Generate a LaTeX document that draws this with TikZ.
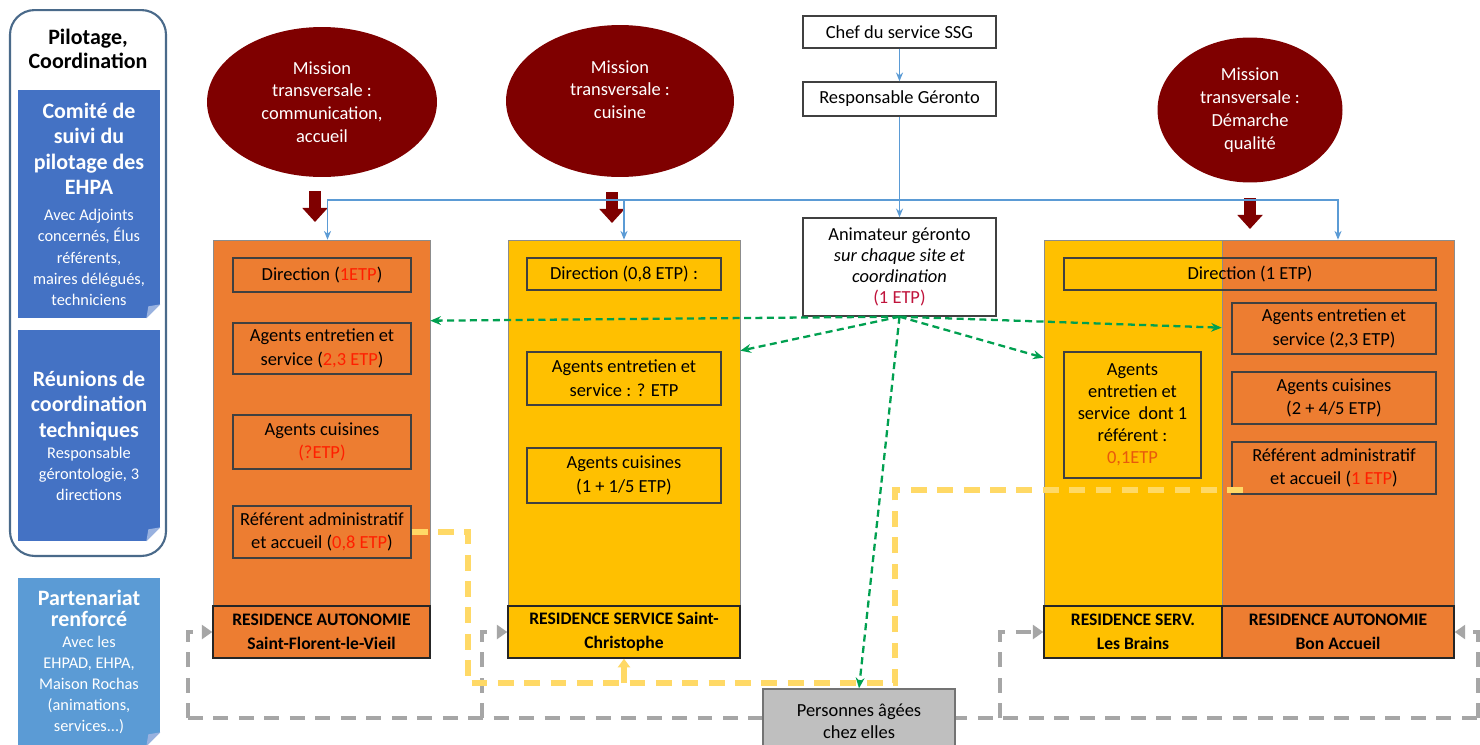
\documentclass[tikz,border=0pt]{standalone}
\usepackage{fontspec}
\setmainfont{Carlito}
\usepackage{tikz}
\usetikzlibrary{calc}
\usetikzlibrary{arrows.meta}
\usetikzlibrary{shapes.geometric}

\definecolor{resorange}{HTML}{ED7D31}
\definecolor{resyellow}{HTML}{FFC000}
\definecolor{missred}{HTML}{7F0000}
\definecolor{pilblue}{HTML}{4472C4}
\definecolor{partblue}{HTML}{5B9BD5}
\definecolor{linkblue}{HTML}{5B9BD5}
\definecolor{panelline}{HTML}{4A6A8A}
\definecolor{animgreen}{HTML}{00A050}
\definecolor{paleyellow}{HTML}{FFD966}
\definecolor{etpred}{HTML}{FF1F00}
\definecolor{etporange}{HTML}{E8590C}
\definecolor{etpdark}{HTML}{C0143C}

\newcommand{\pilhead}{\bfseries\fontsize{12.5}{14.5}\selectfont}

\tikzset{
  res/.style={draw=black!45, minimum height=8.36cm},
  inbox/.style={draw=black!75, line width=0.8pt, align=center, font=\fontsize{10.5}{13.5}\selectfont, inner sep=2pt},
  reslab/.style={draw=black!85, line width=0.8pt, align=center, font=\bfseries\fontsize{10}{13.5}\selectfont, minimum height=1.04cm},
  topbox/.style={draw=black!75, fill=white, line width=0.8pt, align=center, font=\fontsize{10.5}{12}\selectfont, minimum width=3.86cm},
  mission/.style={ellipse, fill=missred, text=white, align=center, font=\fontsize{10.5}{13}\selectfont, inner sep=0pt},
  pilbox/.style={fill=pilblue, text=white, align=center, minimum width=2.84cm, font=\fontsize{9.3}{12}\selectfont},
  bluelink/.style={linkblue, line width=0.9pt, -{Stealth[length=5pt,width=4pt]}},
  blockarr/.style={missred, line width=7pt, -{Triangle[length=8pt,width=14pt]}},
  greenarr/.style={animgreen, line width=1.3pt, dash pattern=on 4pt off 2.5pt, -{Stealth[length=6pt,width=5pt]}},
  grayline/.style={black!35, line width=2.8pt, dash pattern=on 8.5pt off 6pt},
  grayarr/.style={grayline, -{Triangle[length=6pt,width=8pt]}},
  yelline/.style={paleyellow, line width=3pt, dash pattern=on 9pt off 6pt},
  yelarr/.style={yelline, -{Triangle[length=5pt,width=7pt]}},
}

\begin{document}
\begin{tikzpicture}[x=0.02cm, y=-0.02cm]
\path[use as bounding box, fill=white] (0,0) rectangle (1480,744);

\node[draw=panelline, line width=1.2pt, rounded corners=14pt, minimum width=3.12cm, minimum height=10.92cm] (pil) at (88,283) {};
\node[align=center, font=\bfseries\fontsize{12.5}{13.7}\selectfont] (piltit) at (88,49) {Pilotage,\\ Coordination};

\node[pilbox, minimum height=4.56cm] (b1) at (89,204) {\pilhead Comité de\\[2.5pt] \pilhead suivi du\\[2.5pt] \pilhead pilotage des\\[2.5pt] \pilhead EHPA\\[3pt] Avec Adjoints\\ concernés, Élus\\ référents,\\ maires délégués,\\ techniciens};
\node[pilbox, minimum height=4.22cm] (b2) at (89,435.5) {\pilhead Réunions de\\[2.5pt] \pilhead coordination\\[2.5pt] \pilhead techniques\\[0pt] Responsable\\ gérontologie, 3\\ directions};
\node[pilbox, fill=partblue, minimum height=3.36cm] (b3) at (89,662) {\pilhead Partenariat\\[0pt] \pilhead renforcé\\[0pt] Avec les\\ EHPAD, EHPA,\\ Maison Rochas\\ (animations,\\ services...)};
\foreach \b in {b1,b2,b3}{
  \fill[white] (\b.south east) -- ++(-14,0) -- ++(14,-14) -- cycle;
  \fill[pilblue!55!white] ($(\b.south east)+(-14,0)$) -- ++(14,-14) -- ++(-12,2) -- cycle;
}

\node[mission, minimum width=4.6cm, minimum height=3cm] (e1) at (322,102) {Mission\\ transversale :\\ communication,\\ accueil};
\node[mission, minimum width=4.56cm, minimum height=3.04cm] (e2) at (620,101) {Mission\\ transversale :\\ cuisine\\ \mbox{}};
\node[mission, minimum width=3.7cm, minimum height=2.9cm] (e3) at (1250,110) {Mission\\ transversale :\\ Démarche\\ qualité};

\node[res, fill=resorange, minimum width=4.34cm] (res1) at (321.5,449) {};
\node[res, fill=resyellow, minimum width=4.64cm] (res2) at (624,449) {};
\node[res, fill=resyellow, minimum width=3.56cm] (res3) at (1133,449) {};
\node[res, fill=resorange, minimum width=4.64cm] (res4) at (1338,449) {};

\node[reslab, fill=resorange, minimum width=4.34cm] (lab1) at (321.5,632) {RESIDENCE AUTONOMIE\\ Saint-Florent-le-Vieil};
\node[reslab, fill=resyellow, minimum width=4.64cm] (lab2) at (624,632) {RESIDENCE SERVICE Saint-\\ Christophe};
\node[reslab, fill=resyellow, minimum width=3.56cm] (lab3) at (1133,632) {RESIDENCE SERV.\\ Les Brains};
\node[reslab, fill=resorange, minimum width=4.64cm] (lab4) at (1338,632) {RESIDENCE AUTONOMIE\\ Bon Accueil};

\node[inbox, minimum width=3.56cm, minimum height=0.68cm] (dir1) at (322,275) {Direction (\textcolor{etpred}{1ETP})};
\node[inbox, minimum width=3.56cm, minimum height=1.02cm] (ent1) at (322,348.5) {Agents entretien et\\ service (\textcolor{etpred}{2,3 ETP})};
\node[inbox, minimum width=3.56cm, minimum height=1.08cm] (cui1) at (322,442) {Agents cuisines\\ \textcolor{etpred}{(?ETP)}};
\node[inbox, minimum width=3.56cm, minimum height=1.04cm] (ref1) at (322,532) {Référent administratif\\ et accueil (\textcolor{etpred}{0,8 ETP})};

\node[inbox, minimum width=3.88cm, minimum height=0.64cm] (dir2) at (624,274) {Direction (0,8 ETP) :};
\node[inbox, minimum width=3.88cm, minimum height=1.06cm] (ent2) at (624,378.5) {Agents entretien et\\ service : ? ETP};
\node[inbox, minimum width=3.88cm, minimum height=1.1cm] (cui2) at (624,475.5) {Agents cuisines\\ (1 + 1/5 ETP)};

\node[inbox, minimum width=7.44cm, minimum height=0.64cm] (dir3) at (1250,274) {Direction (1 ETP)};
\node[inbox, minimum width=2.74cm, minimum height=2.52cm, font=\fontsize{10.5}{12.5}\selectfont] (ent3) at (1132.5,415) {Agents\\ entretien et\\ service~ dont 1\\ référent :\\ \textcolor{etporange}{0,1ETP}};
\node[inbox, minimum width=4.08cm, minimum height=1.02cm] (ent4) at (1334,328.5) {Agents entretien et\\ service (2,3 ETP)};
\node[inbox, minimum width=4.08cm, minimum height=1.04cm] (cui4) at (1334,398) {Agents cuisines\\ (2 + 4/5 ETP)};
\node[inbox, minimum width=4.08cm, minimum height=1.04cm] (ref4) at (1334,468) {Référent administratif\\ et accueil (\textcolor{etpred}{1 ETP})};

\node[topbox, minimum height=0.64cm] (chef) at (899.5,32) {Chef du service SSG};
\node[topbox, minimum height=0.68cm] (resp) at (899.5,99) {Responsable Géronto};
\node[topbox, minimum height=1.96cm] (anim) at (899.5,267) {Animateur géronto\\ \textit{sur chaque site et}\\ \textit{coordination}\\ \textcolor{etpdark}{(1 ETP)}};

\coordinate (ba1) at (315,191);
\coordinate (ba2) at (612,192);
\coordinate (ba3) at (1250,198);
\foreach \a in {ba1,ba2,ba3}
\draw[blockarr] (\a) -- ++(0,31);

\coordinate (hub) at (899.5,200);
\draw[bluelink] (chef) -- (resp);
\draw[bluelink] (resp) -- (anim);
\draw[bluelink] (hub) -| ($(res1.north)+(6,0)$);
\draw[bluelink] (hub) -| (res2.north);
\draw[bluelink] (hub) -| (res4.north);

\coordinate (g1) at (188,718);
\coordinate (g2) at (482,718);
\coordinate (g3) at (1000,718);
\coordinate (g4) at (1478,718);
\draw[grayline] (g1) -- (g4);
\draw[grayarr] (g1) |- (lab1.west);
\draw[grayarr] (g2) |- (lab2.west);
\draw[grayarr] (g3) |- (lab3.west);
\draw[grayarr] (g4) |- (lab4.east);

\coordinate (y1) at (468,683);
\coordinate (y2) at (895,683);
\draw[yelline] (ref1.east) -| (y1) -- (y2) |- ($(ref4.west)+(16,22)$);
\draw[yelarr] (lab2.south |- y1) -- (lab2.south);

\node[draw=black!55, fill=black!25, line width=0.8pt, minimum width=3.84cm, minimum height=1.28cm, align=center, font=\fontsize{10.5}{12.5}\selectfont] (pers) at (859,721) {Personnes âgées\\ chez elles};

\draw[greenarr] (anim.south) -- ($(anim.south -| res1.east)+(0,4)$);
\draw[greenarr] (anim.south) -- ($(anim.south -| res2.east)+(0,34)$);
\draw[greenarr] (anim.south) -- ($(anim.south -| res3.west)+(0,41)$);
\draw[greenarr] (anim.south) -- ($(anim.south -| res4.west)+(0,11)$);
\draw[greenarr] (anim.south) -- (pers.north);

\end{tikzpicture}
\end{document}
